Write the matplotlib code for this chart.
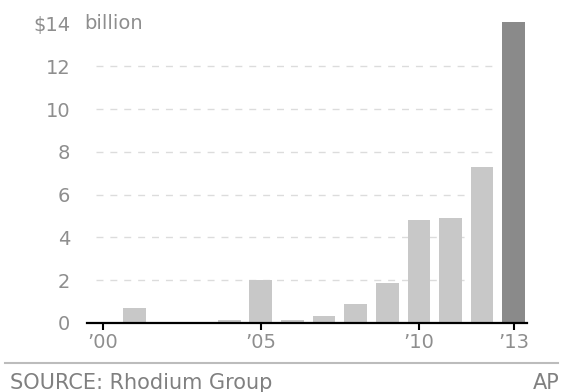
import matplotlib.pyplot as plt
from matplotlib import transforms

# Chinese investment in the U.S., billions of dollars per year
years = [2000, 2001, 2002, 2003, 2004, 2005, 2006,
         2007, 2008, 2009, 2010, 2011, 2012, 2013]
values = [0.0, 0.7, 0.02, 0.03, 0.15, 2.0, 0.15,
          0.35, 0.9, 1.86, 4.82, 4.9, 7.3, 14.1]

x_tick_years = [2000, 2005, 2010, 2013]
x_tick_labels = ["\u201900", "\u201905", "\u201910", "\u201913"]
y_ticks = [0, 2, 4, 6, 8, 10, 12, 14]
y_tick_labels = ["0", "2", "4", "6", "8", "10", "12", "$14"]

light_gray = "#c8c8c8"
dark_gray = "#8a8a8a"
text_gray = "#8e8e8e"

fig = plt.figure(figsize=(5.63, 3.92), dpi=100)
ax = fig.add_axes([87 / 563, 1 - 323 / 392, (527 - 87) / 563, (323 - 13) / 392])

colors = [light_gray] * (len(years) - 1) + [dark_gray]
ax.bar(years, values, width=0.72, color=colors, zorder=2)

ax.set_xlim(1999.5, 2013.42)
ax.set_ylim(0, 14.5)

# dotted guide lines behind the bars
for y in y_ticks[1:-1]:
    ax.axhline(y, xmin=0.02, xmax=0.93, color="#dcdcdc",
               linestyle=(0, (5, 5)), linewidth=1.0, zorder=1)

for side in ["top", "right", "left"]:
    ax.spines[side].set_visible(False)
ax.spines["bottom"].set_color("black")
ax.spines["bottom"].set_linewidth(1.6)
ax.spines["bottom"].set_zorder(3)

ax.set_xticks(x_tick_years)
ax.set_xticklabels(x_tick_labels)
ax.tick_params(axis="x", direction="out", length=5, width=1.5, color="black",
               labelsize=14, labelcolor=text_gray, pad=2)

ax.set_yticks(y_ticks)
ax.set_yticklabels(y_tick_labels)
ax.tick_params(axis="y", length=0, labelsize=14, labelcolor=text_gray, pad=12)

# unit label next to the top tick
blend = transforms.blended_transform_factory(fig.transFigure, ax.transData)
fig.text(84 / 563, 14, "billion", transform=blend, ha="left", va="center",
         fontsize=14, color=text_gray)

# footer rule and credits
fig.add_artist(plt.Line2D([5 / 563, 558 / 563], [1 - 363 / 392, 1 - 363 / 392],
                          color="#bcbcbc", linewidth=1.5))
fig.text(10 / 563, 1 - 383 / 392, "SOURCE: Rhodium Group", ha="left", va="center",
         fontsize=15, color="#808080")
fig.text(560 / 563, 1 - 383 / 392, "AP", ha="right", va="center",
         fontsize=15, color="#808080")

fig.savefig("out.png", dpi=100)
